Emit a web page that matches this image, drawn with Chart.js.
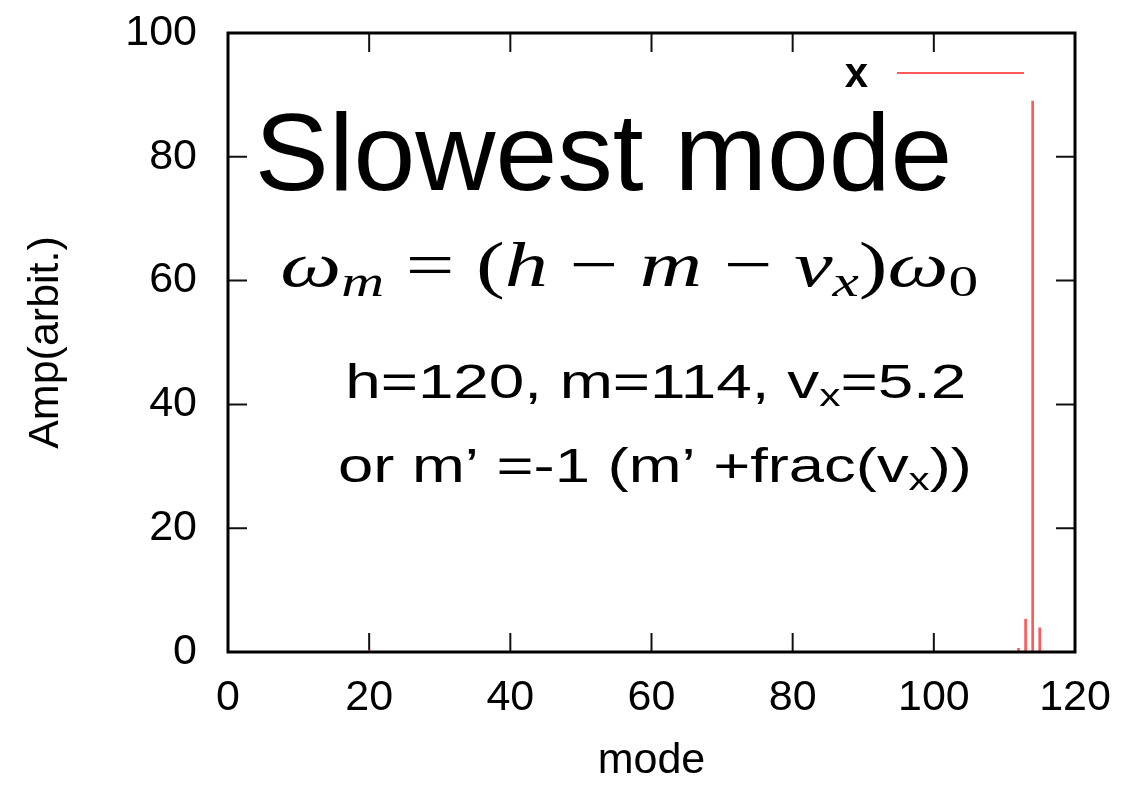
<!DOCTYPE html>
<html><head><meta charset="utf-8">
<style>html,body{margin:0;padding:0;background:#fff}#wrap{width:1134px;height:791px;position:relative}</style>
<script src="https://cdn.jsdelivr.net/npm/chart.js@4/dist/chart.umd.min.js"></script>
</head><body><div id="wrap"><canvas id="c" width="1134" height="791"></canvas></div>
<script>
// ---- data ----
const modes = [20, 112, 113, 114, 115];
const amps = [0.3, 0.6, 5.3, 89, 3.9];
const xTicks = [0, 20, 40, 60, 80, 100, 120];
const yTicks = [0, 20, 40, 60, 80, 100];
const seriesLabel = 'x';
const xTitle = 'mode';
const yTitle = 'Amp(arbit.)';
const headline = 'Slowest mode';
const paramLine = ['h=120, m=114, v', 'x', '=5.2'];
const altLine = ['or m’ =-1 (m’ +frac(v', 'x', '))'];

const SANS = '"Liberation Sans", Arial, Helvetica, sans-serif';
const SERIF = '"Liberation Serif", "Times New Roman", serif';

function drawRuns(ctx, runs, x, baseline, right) {
  let w = 0;
  runs.forEach(r => { ctx.font = r.font; r.w = ctx.measureText(r.t).width; w += r.w; });
  const sx = right ? (right - x) / w : 1;
  ctx.save();
  ctx.translate(x, baseline);
  ctx.scale(sx, 1);
  ctx.fillStyle = '#000';
  ctx.textBaseline = 'alphabetic';
  ctx.textAlign = 'left';
  let cx = 0;
  runs.forEach(r => { ctx.font = r.font; ctx.fillText(r.t, cx, r.dy || 0); cx += r.w; });
  ctx.restore();
}

const framePlugin = {
  id: 'frame',
  beforeDatasetsDraw(chart) {
    const {ctx, chartArea: a, scales: {x, y}} = chart;
    ctx.save();
    ctx.strokeStyle = '#111';
    ctx.lineWidth = 2;
    const L = 19;
    ctx.beginPath();
    x.ticks.forEach(t => {
      const px = x.getPixelForValue(t.value);
      ctx.moveTo(px, a.bottom); ctx.lineTo(px, a.bottom - L);
      ctx.moveTo(px, a.top); ctx.lineTo(px, a.top + L);
    });
    y.ticks.forEach(t => {
      const py = y.getPixelForValue(t.value);
      ctx.moveTo(a.left, py); ctx.lineTo(a.left + L, py);
      ctx.moveTo(a.right, py); ctx.lineTo(a.right - L, py);
    });
    ctx.stroke();
    ctx.restore();
  },
  afterDatasetsDraw(chart) {
    const {ctx, chartArea: a, scales: {x, y}} = chart;
    ctx.save();
    ctx.strokeStyle = '#000';
    ctx.lineWidth = 3;
    ctx.strokeRect(a.left, a.top, a.right - a.left, a.bottom - a.top);
    // legend (gnuplot style, top right inside)
    const ds = chart.data.datasets[0];
    const ly = a.top + 40;
    ctx.strokeStyle = ds.borderColor;
    ctx.lineWidth = 2;
    ctx.beginPath();
    ctx.moveTo(a.right - 178, ly); ctx.lineTo(a.right - 51, ly);
    ctx.stroke();
    ctx.fillStyle = '#000';
    ctx.font = 'bold 42px ' + SANS;
    ctx.textAlign = 'right';
    ctx.textBaseline = 'middle';
    ctx.fillText(ds.label, a.right - 207, ly + 2);
    ctx.restore();

    // annotations anchored in data coordinates
    const X = v => x.getPixelForValue(v), Y = v => y.getPixelForValue(v);
    drawRuns(ctx, [{t: headline, font: '110px ' + SANS}], X(3.8), Y(74.6), X(102.6));

    const F = 64, S = 44;
    const it = 'italic ' + F + 'px ' + SERIF, up = F + 'px ' + SERIF;
    const its = 'italic ' + S + 'px ' + SERIF, ups = S + 'px ' + SERIF;
    drawRuns(ctx, [
      {t: 'ω', font: it}, {t: 'm', font: its, dy: 10},
      {t: ' = (', font: up}, {t: 'h', font: it}, {t: ' − ', font: up},
      {t: 'm', font: it}, {t: ' − ', font: up}, {t: 'ν', font: it},
      {t: 'x', font: its, dy: 10}, {t: ')', font: up}, {t: 'ω', font: it},
      {t: '0', font: ups, dy: 10}
    ], X(7.4), Y(59.1), X(106.3));

    const T = '48px ' + SANS, Ts = '32px ' + SANS;
    drawRuns(ctx, [{t: paramLine[0], font: T}, {t: paramLine[1], font: Ts, dy: 8}, {t: paramLine[2], font: T}],
      X(16.6), Y(41), X(104.6));
    drawRuns(ctx, [{t: altLine[0], font: T}, {t: altLine[1], font: Ts, dy: 8}, {t: altLine[2], font: T}],
      X(15.6), Y(27.5), X(105.4));
  }
};

new Chart(document.getElementById('c'), {
  type: 'bar',
  data: {
    datasets: [{
      label: seriesLabel,
      data: modes.map((m, i) => ({x: m, y: amps[i]})),
      backgroundColor: 'rgb(255,90,90)',
      borderColor: 'rgb(255,90,90)',
      borderWidth: 0,
      barThickness: 2
    }]
  },
  options: {
    responsive: false,
    animation: false,
    layout: {padding: {top: 33, right: 59, bottom: 0, left: 0}},
    plugins: {legend: {display: false}, tooltip: {enabled: false}},
    scales: {
      x: {
        type: 'linear', min: 0, max: 120, offset: false,
        afterBuildTicks: s => { s.ticks = xTicks.map(v => ({value: v})); },
        afterFit: s => { s.height = 139; },
        grid: {display: false, drawTicks: false, offset: false},
        border: {display: false},
        ticks: {padding: 20, color: '#000', font: {family: SANS, size: 43}, maxRotation: 0},
        title: {display: true, text: xTitle, color: '#000', font: {family: SANS, size: 43}, padding: {top: 0, bottom: 4}}
      },
      y: {
        type: 'linear', min: 0, max: 100,
        afterBuildTicks: s => { s.ticks = yTicks.map(v => ({value: v})); },
        afterFit: s => { s.width = 228; s.paddingTop = 0; s.paddingBottom = 0; },
        grid: {display: false, drawTicks: false},
        border: {display: false},
        ticks: {padding: 31, color: '#000', font: {family: SANS, size: 43}},
        title: {display: true, text: yTitle, color: '#000', font: {family: SANS, size: 43}, padding: {top: 20, bottom: 0}}
      }
    }
  },
  plugins: [framePlugin]
});
</script>
</body></html>
